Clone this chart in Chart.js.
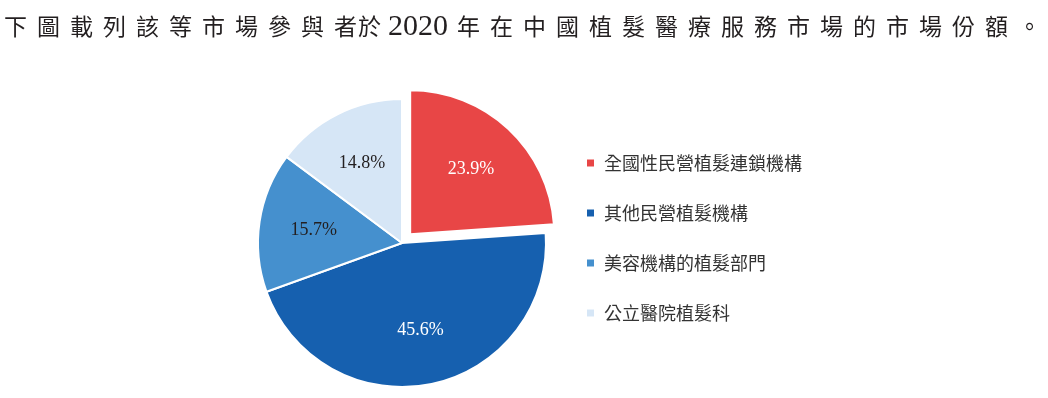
<!DOCTYPE html>
<html>
<head>
<meta charset="utf-8">
<script src="https://cdn.jsdelivr.net/npm/chart.js@4"></script>
<style>
  html, body { margin: 0; padding: 0; background: #fff; }
  #wrap { position: relative; width: 1048px; height: 398px; }
  #title {
    position: absolute; left: 4px; top: 10px; white-space: nowrap;
    font-family: "Liberation Serif", "Noto Sans CJK TC", serif;
    font-size: 23px; letter-spacing: 10px; color: #231f20; line-height: 30px;
  }
  #title .tight { letter-spacing: 1px; }
  #title .mid { letter-spacing: 7px; }
  #title .num { font-size: 30px; letter-spacing: 0; margin-right: 9px; }
</style>
</head>
<body>
<div id="wrap">
  <div id="title">下圖載列該等市場參與<span class="tight">者</span><span class="mid">於</span><span class="num">2020</span>年在中國植髮醫療服務市場的市場份額。</div>
  <canvas id="myChart" width="1048" height="398"></canvas>
</div>
<script>
var categories = ['全國性民營植髮連鎖機構', '其他民營植髮機構', '美容機構的植髮部門', '公立醫院植髮科'];
var shares = [23.9, 45.6, 15.7, 14.8];
var sliceColors = ['#e84646', '#1660af', '#4590ce', '#d6e6f6'];
var labelColors = ['#ffffff', '#ffffff', '#231f20', '#231f20'];

// percentage labels inside the slices
var sliceLabels = {
  id: 'sliceLabels',
  afterDatasetsDraw(chart) {
    var ctx = chart.ctx;
    var meta = chart.getDatasetMeta(0);
    ctx.save();
    ctx.font = '18px "Liberation Serif"';
    ctx.textAlign = 'center';
    ctx.textBaseline = 'middle';
    meta.data.forEach(function (arc, i) {
      var p = arc.getProps(['x', 'y', 'startAngle', 'endAngle', 'outerRadius']);
      var mid = (p.startAngle + p.endAngle) / 2;
      // arc offset is drawn at a quarter of the option value
      var r = p.outerRadius * 0.62 + (arc.options.offset || 0) / 4;
      ctx.fillStyle = labelColors[i];
      ctx.fillText(shares[i].toFixed(1) + '%', p.x + Math.cos(mid) * r, p.y + Math.sin(mid) * r);
    });
    ctx.restore();
  }
};

// nudge the legend block up a little
var legendNudge = {
  id: 'legendNudge',
  afterLayout(chart) {
    chart.legend.top -= 5;
    chart.legend.bottom -= 5;
  }
};

var ctx = document.getElementById('myChart').getContext('2d');
var chart = new Chart(ctx, {
  type: 'pie',
  data: {
    labels: categories,
    datasets: [{
      data: shares,
      backgroundColor: sliceColors,
      borderColor: '#ffffff',
      borderWidth: 2,
      offset: [48, 0, 0, 0]
    }]
  },
  options: {
    responsive: false,
    animation: false,
    events: [],
    radius: 144,
    layout: { padding: { top: 90, bottom: 2, left: 250, right: 236 } },
    plugins: {
      tooltip: { enabled: false },
      legend: {
        position: 'right',
        labels: {
          boxWidth: 9,
          boxHeight: 9,
          padding: 32,
          color: '#333333',
          font: { family: '"Noto Sans CJK TC"', size: 18 }
        }
      }
    }
  },
  plugins: [sliceLabels, legendNudge]
});
</script>
</body>
</html>
